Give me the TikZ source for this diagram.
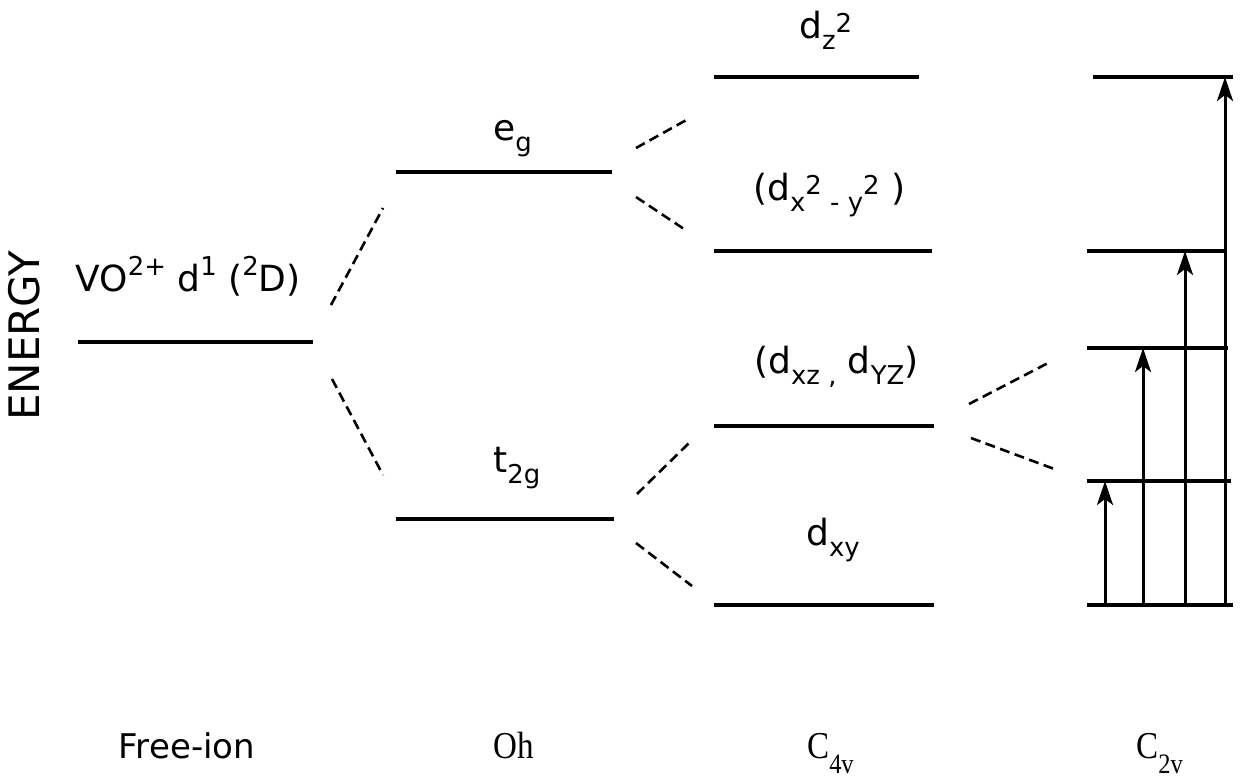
\documentclass[tikz,border=0pt]{standalone}
\usepackage{fontspec}
\setmainfont{DejaVu Sans}
\newfontfamily\seriffont{Liberation Serif}
\usetikzlibrary{arrows.meta}
\newcommand\lowr[1]{\raisebox{-0.32em}{\scalebox{0.72}{#1}}}
\newcommand\upr[1]{\raisebox{0.42em}{\scalebox{0.72}{#1}}}
\newcommand\sqr{\raisebox{0.14em}{\scalebox{0.72}{2}}}
\newcommand\serlow[1]{\raisebox{-0.4em}{\scalebox{0.74}{#1}}}
\newcommand\sernarrow[1]{\scalebox{0.87}[1]{\seriffont #1}}
\begin{document}
\begin{tikzpicture}[x=1pt,y=-1pt,
  level/.style={line width=3.2pt},
  conn/.style={line width=2.6pt, dash pattern=on 10pt off 5.5pt},
  trans/.style={line width=3pt,-{Stealth[length=24pt,width=16pt,inset=6pt]}},
  lab/.style={font=\fontsize{36}{40}\selectfont, inner sep=0pt},
  grp/.style={font=\fontsize{34}{40}\selectfont, inner sep=0pt, anchor=base west},
  sgrp/.style={font=\fontsize{38}{42}\selectfont, inner sep=0pt, anchor=base west}]
\useasboundingbox (0,0) rectangle (1241,780);

% level end points
\coordinate (fiL) at (78,342);  \coordinate (fiR) at (313,342);
\coordinate (egL) at (396,172); \coordinate (egR) at (612,172);
\coordinate (tgL) at (396,519); \coordinate (tgR) at (614,519);
\coordinate (zL) at (714,77);   \coordinate (zR) at (919,77);
\coordinate (xL) at (714,251);  \coordinate (xR) at (932,251);
\coordinate (eL) at (714,426);  \coordinate (eR) at (934,426);
\coordinate (bL) at (714,605);  \coordinate (bR) at (934,605);
\coordinate (c1L) at (1093,77);  \coordinate (c1R) at (1233,77);
\coordinate (c2L) at (1087,251); \coordinate (c2R) at (1225,251);
\coordinate (c3L) at (1087,348); \coordinate (c3R) at (1228,348);
\coordinate (c4L) at (1087,481); \coordinate (c4R) at (1231,481);
\coordinate (c5L) at (1087,605); \coordinate (c5R) at (1233,605);

\draw[level] (fiL) -- (fiR);
\draw[level] (egL) -- (egR);
\draw[level] (tgL) -- (tgR);
\draw[level] (zL) -- (zR);
\draw[level] (xL) -- (xR);
\draw[level] (eL) -- (eR);
\draw[level] (bL) -- (bR);
\draw[level] (c1L) -- (c1R);
\draw[level] (c2L) -- (c2R);
\draw[level] (c3L) -- (c3R);
\draw[level] (c4L) -- (c4R);
\draw[level] (c5L) -- (c5R);

% dashed correlation lines
\coordinate (d1a) at (331,305); \coordinate (d1b) at (383,208);
\coordinate (d2a) at (332,379); \coordinate (d2b) at (383,475);
\coordinate (d3a) at (636,148); \coordinate (d3b) at (690,118);
\coordinate (d4a) at (636,197); \coordinate (d4b) at (687,231);
\coordinate (d5a) at (637,494); \coordinate (d5b) at (689,443);
\coordinate (d6a) at (636,543); \coordinate (d6b) at (692,586);
\coordinate (d7a) at (969,404); \coordinate (d7b) at (1050,362);
\coordinate (d8a) at (971,438); \coordinate (d8b) at (1057,470);
\draw[conn] (d1a) -- (d1b);
\draw[conn] (d2a) -- (d2b);
\draw[conn] (d3a) -- (d3b);
\draw[conn] (d4a) -- (d4b);
\draw[conn] (d5a) -- (d5b);
\draw[conn] (d6a) -- (d6b);
\draw[conn] (d7a) -- (d7b);
\draw[conn] (d8a) -- (d8b);

% transitions
\coordinate (a1b) at (1105,605); \coordinate (a1t) at (1105,481);
\coordinate (a2b) at (1143,605); \coordinate (a2t) at (1143,348);
\coordinate (a3b) at (1185,605); \coordinate (a3t) at (1185,251);
\coordinate (a4b) at (1225,605); \coordinate (a4t) at (1225,77);
\draw[trans] (a1b) -- (a1t);
\draw[trans] (a2b) -- (a2t);
\draw[trans] (a3b) -- (a3t);
\draw[trans] (a4b) -- (a4t);

% labels
\node[lab, anchor=base] (lfi) at (188,291) {VO\upr{2+} d\upr{1} (\upr{2}D)};
\node[lab, anchor=base west] (leg) at (493,140) {e\lowr{g}};
\node[lab, anchor=base west] (ltg) at (493,472) {t\lowr{2g}};
\node[lab, anchor=base west] (lz) at (799,38) {d\lowr{z}\sqr};
\node[lab, anchor=base west] (lx) at (753,200) {(d\lowr{x}\sqr\lowr{ - y}\sqr\ )};
\node[lab, anchor=base west] (le) at (754,373) {(d\lowr{xz ,} d\lowr{YZ})};
\node[lab, anchor=base west] (lb) at (806,545) {d\lowr{xy}};

\node[font=\fontsize{42}{46}\selectfont, inner sep=0pt, rotate=90] (energy) at (24,336) {ENERGY};

\node[grp, anchor=base] (gfi) at (187,758) {Free-ion};
\node[sgrp] (goh) at (493,758) {\sernarrow{Oh}};
\node[sgrp] (gc4) at (807,758) {\sernarrow{C\serlow{4v}}};
\node[sgrp] (gc2) at (1136,758) {\sernarrow{C\serlow{2v}}};
\end{tikzpicture}
\end{document}
